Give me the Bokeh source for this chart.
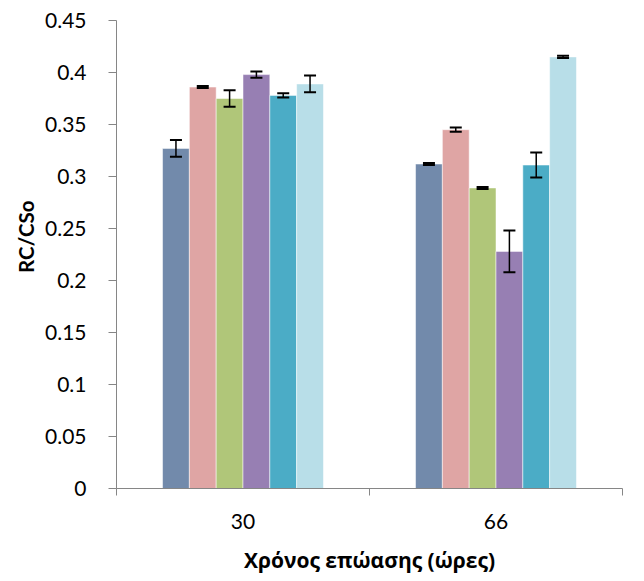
from bokeh.plotting import figure
from bokeh.models import ColumnDataSource, Whisker, TeeHead, FixedTicker, CustomJSTickFormatter, Range1d, Title
from bokeh.embed import file_html
from bokeh.resources import INLINE

categories = ["30", "66"]
series_colors = ["#728AAB", "#DFA5A4", "#B0C679", "#977FB3", "#4BACC6", "#B8DEE8"]
values_30 = [0.327, 0.386, 0.375, 0.398, 0.378, 0.389]
errors_30 = [0.008, 0.001, 0.008, 0.003, 0.002, 0.008]
values_66 = [0.312, 0.345, 0.289, 0.228, 0.311, 0.415]
errors_66 = [0.001, 0.002, 0.001, 0.020, 0.012, 0.001]
y_ticks = [0, 0.05, 0.1, 0.15, 0.2, 0.25, 0.3, 0.35, 0.4, 0.45]

bar_w = 0.106
xs, tops, errs, cols = [], [], [], []
for gi, (vals, es) in enumerate([(values_30, errors_30), (values_66, errors_66)]):
    for j, (v, e) in enumerate(zip(vals, es)):
        xs.append(gi + 0.5 + (j - 2.5) * bar_w)
        tops.append(v)
        errs.append(e)
        cols.append(series_colors[j])

src = ColumnDataSource(dict(
    x=xs, top=tops, color=cols,
    upper=[t + e for t, e in zip(tops, errs)],
    lower=[t - e for t, e in zip(tops, errs)],
))

p = figure(width=644, height=581, output_backend="svg", toolbar_location=None,
           x_range=Range1d(0, len(categories)), y_range=Range1d(0, 0.45),
           min_border_left=116, min_border_right=22, min_border_top=20, min_border_bottom=93)
p.outline_line_color = None
p.xgrid.grid_line_color = None
p.ygrid.grid_line_color = None
p.background_fill_color = "white"
p.border_fill_color = "white"

p.vbar(x="x", top="top", width=bar_w, bottom=0, fill_color="color",
       line_color="white", line_alpha=0.5, line_width=1, source=src)

w = Whisker(base="x", upper="upper", lower="lower", source=src, level="overlay",
            line_color="black", line_width=1.5,
            upper_head=TeeHead(size=12, line_width=2, line_color="black"),
            lower_head=TeeHead(size=12, line_width=2, line_color="black"))
p.add_layout(w)

axis_gray = "#868686"
# y axis
p.yaxis.ticker = FixedTicker(ticks=y_ticks)
p.yaxis.formatter = CustomJSTickFormatter(code="return parseFloat(tick.toFixed(2)).toString();")
p.yaxis.axis_line_color = axis_gray
p.yaxis.major_tick_line_color = axis_gray
p.yaxis.major_tick_out = 8
p.yaxis.major_tick_in = 0
p.yaxis.minor_tick_line_color = None
p.yaxis.major_label_text_font = "Lato"
p.yaxis.major_label_text_font_size = "21px"
p.yaxis.major_label_text_color = "black"
p.yaxis.major_label_standoff = 22

ytitle = Title(text="RC/CSo", align="right", offset=180, standoff=10,
               text_font="Lato", text_font_style="bold", text_font_size="20.5px",
               text_color="black")
p.add_layout(ytitle, "left")

# x axis
p.xaxis.ticker = FixedTicker(ticks=[i + 0.5 for i in range(len(categories))],
                             minor_ticks=list(range(len(categories) + 1)))
p.xaxis.major_label_overrides = {i + 0.5: c for i, c in enumerate(categories)}
p.xaxis.axis_line_color = axis_gray
p.xaxis.major_tick_line_color = None
p.xaxis.major_tick_out = 0
p.xaxis.major_tick_in = 0
p.xaxis.minor_tick_line_color = axis_gray
p.xaxis.minor_tick_out = 7
p.xaxis.minor_tick_in = 0
p.xaxis.major_label_text_font = "Lato"
p.xaxis.major_label_text_font_size = "21px"
p.xaxis.major_label_text_color = "black"
p.xaxis.major_label_standoff = 18
p.xaxis.axis_label = "Χρόνος επώασης (ώρες)"
p.xaxis.axis_label_text_font = "Open Sans"
p.xaxis.axis_label_text_font_style = "bold"
p.xaxis.axis_label_text_font_size = "21px"
p.xaxis.axis_label_text_color = "black"
p.xaxis.axis_label_standoff = 14

open("out.html", "w").write(file_html(p, INLINE))
